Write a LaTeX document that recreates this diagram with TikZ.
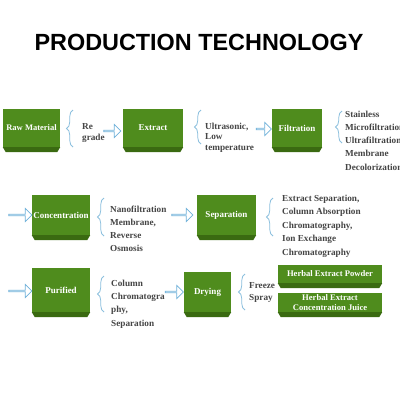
\documentclass[tikz,border=0pt]{standalone}
\usepackage{fontspec}
\setmainfont{Liberation Serif}
\newfontfamily\titlefont{Liberation Sans}
\usetikzlibrary{shapes.arrows,decorations.pathreplacing,calc}
\definecolor{boxgreen}{HTML}{4F8C1D}
\definecolor{bevelgreen}{HTML}{3A6A11}
\definecolor{bracec}{HTML}{8CC0DE}
\definecolor{arrowc}{HTML}{6FB1DA}
\definecolor{txtgray}{HTML}{454545}
\tikzset{
  gbox/.style={fill=boxgreen, text=white, inner sep=0pt, align=center,
    font=\bfseries\fontsize{9}{10.5}\selectfont},
  lbl/.style={anchor=west, inner sep=0pt, align=left, text=txtgray},
  harrow/.style={single arrow, draw=arrowc, fill=white, line width=0.8pt,
    minimum width=13pt, single arrow head extend=3.5pt, inner sep=0pt,
    minimum height=#1},
  cbrace/.style={draw=bracec, line width=0.8pt,
    decorate, decoration={brace, amplitude=6.5pt}},
}
\newcommand{\bevel}[1]{%
  \fill[bevelgreen] (#1.south west) -- (#1.south east) -- ++(-3,5)
    -- ($(#1.south west)+(3,5)$) -- cycle;}
\begin{document}
\begin{tikzpicture}[x=1pt,y=-1pt]
\useasboundingbox (0,0) rectangle (400,400);
\clip (0,0) rectangle (400,400);
\fill[white] (0,0) rectangle (400,400);

\node[font=\titlefont\bfseries\fontsize{23.4}{26}\selectfont] (title) at (199,42) {PRODUCTION TECHNOLOGY};

% boxes
\node[gbox, minimum width=57pt, minimum height=38pt, font=\bfseries\fontsize{8.5}{10}\selectfont] (raw) at (31.5,128) {Raw Material};
\node[gbox, minimum width=60pt, minimum height=38pt] (extract) at (153,128) {Extract};
\node[gbox, minimum width=50pt, minimum height=38pt] (filt) at (297,128) {Filtration};
\node[gbox, minimum width=58pt, minimum height=40pt] (conc) at (61,215) {Concentration};
\node[gbox, minimum width=59pt, minimum height=40pt] (sep) at (226.5,215) {Separation};
\node[gbox, minimum width=58pt, minimum height=44pt] (pur) at (61,290) {Purified};
\node[gbox, minimum width=47pt, minimum height=40pt] (dry) at (207.5,292) {Drying};
\node[gbox, minimum width=104pt, minimum height=18pt, font=\bfseries\fontsize{8.6}{10}\selectfont] (powder) at (330,274) {Herbal Extract Powder};
\node[gbox, minimum width=104pt, minimum height=19pt, font=\bfseries\fontsize{8.6}{10}\selectfont] (juice) at (330,302.5) {Herbal Extract\\Concentration Juice};
\foreach \n in {raw,extract,filt,conc,sep,pur,dry,powder,juice} {\bevel{\n}}

% braces
\draw[cbrace] (73,147) coordinate (b1s) -- (73,110) coordinate (b1e);
\draw[cbrace] (201,144) coordinate (b2s) -- (201,110) coordinate (b2e);
\draw[cbrace] (342,143) coordinate (b3s) -- (342,111) coordinate (b3e);
\draw[cbrace] (104,236) coordinate (b4s) -- (104,198) coordinate (b4e);
\draw[cbrace] (273,236) coordinate (b5s) -- (273,198) coordinate (b5e);
\draw[cbrace] (104,312) coordinate (b6s) -- (104,276) coordinate (b6e);
\draw[cbrace] (245,310) coordinate (b7s) -- (245,274) coordinate (b7e);

% labels
\node[lbl, font=\bfseries\fontsize{9.2}{11}\selectfont] (t1) at (82,132.5) {Re\\grade};
\node[lbl, font=\bfseries\fontsize{9.2}{10.5}\selectfont] (t2) at (205,137.5) {Ultrasonic,\\Low\\temperature};
\node[lbl, font=\bfseries\fontsize{9.2}{13.3}\selectfont] (t3) at (345,140.5) {Stainless\\Microfiltration\\Ultrafiltration\\Membrane\\Decolorization};
\node[lbl, font=\bfseries\fontsize{9.2}{13}\selectfont] (t4) at (110,228.5) {Nanofiltration\\Membrane,\\Reverse\\Osmosis};
\node[lbl, font=\bfseries\fontsize{9.2}{13.5}\selectfont] (t5) at (282,226) {Extract Separation,\\Column Absorption\\Chromatography,\\Ion Exchange\\Chromatography};
\node[lbl, font=\bfseries\fontsize{9.2}{13.3}\selectfont] (t6) at (111,304) {Column\\Chromatogra\\phy,\\Separation};
\node[lbl, font=\bfseries\fontsize{9.2}{12}\selectfont] (t7) at (249,292.5) {Freeze\\Spray};

% hollow arrows
\node[harrow=17pt] (a1) at (112,131) {};
\node[harrow=15pt] (a2) at (263.5,129) {};
\node[harrow=23pt] (a3) at (20,215) {};
\node[harrow=21pt] (a4) at (182,215) {};
\node[harrow=23pt] (a5) at (20,291) {};
\node[harrow=18pt] (a6) at (174,292) {};
\end{tikzpicture}
\end{document}
